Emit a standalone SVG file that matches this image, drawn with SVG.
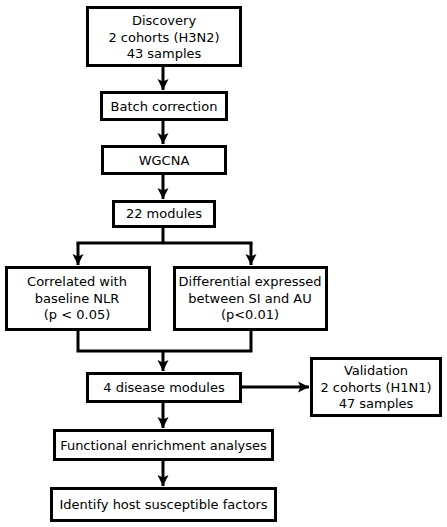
<svg xmlns="http://www.w3.org/2000/svg" width="447" height="527" viewBox="0 0 447 527">
<style>
.box{fill:#fff;stroke:#000;stroke-width:3}
.t{font-family:"DejaVu Sans","Liberation Sans",sans-serif;font-size:13px;fill:#000;text-anchor:middle}
.c{fill:none;stroke:#000;stroke-width:3}
</style>
<defs>
<marker id="ah" markerUnits="userSpaceOnUse" markerWidth="12" markerHeight="12" viewBox="0 0 12 12" refX="11" refY="6" orient="auto">
<path d="M0,0.5 L11,6 L0,11.5 L2.5,6 Z" fill="#000"/>
</marker>
</defs>
<rect width="447" height="527" fill="#fff"/>
<g id="connectors">
<path class="c" d="M163,67 V90" marker-end="url(#ah)"/>
<path class="c" d="M163,121 V144" marker-end="url(#ah)"/>
<path class="c" d="M163,175 V199" marker-end="url(#ah)"/>
<path class="c" d="M163,228 V243 M76.5,243 H252.5"/>
<path class="c" d="M78,243 V265" marker-end="url(#ah)"/>
<path class="c" d="M251,243 V265" marker-end="url(#ah)"/>
<path class="c" d="M78,331 V351 H251 V331"/>
<path class="c" d="M163,351 V371" marker-end="url(#ah)"/>
<path class="c" d="M242,387 H309" marker-end="url(#ah)"/>
<path class="c" d="M163,403 V428" marker-end="url(#ah)"/>
<path class="c" d="M163,461 V486" marker-end="url(#ah)"/>
</g>
<g id="discovery">
<rect class="box" x="87.5" y="7.5" width="153" height="58"/>
<text class="t" x="164" y="25">Discovery</text>
<text class="t" x="164" y="42">2 cohorts (H3N2)</text>
<text class="t" x="164" y="58">43 samples</text>
</g>
<g id="batch">
<rect class="box" x="101.5" y="92.5" width="125" height="27"/>
<text class="t" x="164" y="111">Batch correction</text>
</g>
<g id="wgcna">
<rect class="box" x="102.5" y="146.5" width="123" height="27"/>
<text class="t" x="164" y="165">WGCNA</text>
</g>
<g id="modules22">
<rect class="box" x="113.5" y="201.5" width="101" height="25"/>
<text class="t" x="164" y="218">22 modules</text>
</g>
<g id="correlated">
<rect class="box" x="6.5" y="267.5" width="143" height="62"/>
<text class="t" x="77" y="286">Correlated with</text>
<text class="t" x="77" y="303">baseline NLR</text>
<text class="t" x="77" y="319">(p &lt; 0.05)</text>
</g>
<g id="differential">
<rect class="box" x="174.5" y="267.5" width="152" height="62"/>
<text class="t" x="250" y="286">Differential expressed</text>
<text class="t" x="250" y="303">between SI and AU</text>
<text class="t" x="250" y="319">(p&lt;0.01)</text>
</g>
<g id="disease">
<rect class="box" x="87.5" y="373.5" width="153" height="28"/>
<text class="t" x="164" y="392">4 disease modules</text>
</g>
<g id="validation">
<rect class="box" x="311.5" y="358.5" width="129" height="57"/>
<text class="t" x="376" y="375">Validation</text>
<text class="t" x="376" y="392">2 cohorts (H1N1)</text>
<text class="t" x="376" y="408">47 samples</text>
</g>
<g id="functional">
<rect class="box" x="54.5" y="430.5" width="218" height="29"/>
<text class="t" x="163.5" y="450">Functional enrichment analyses</text>
</g>
<g id="identify">
<rect class="box" x="51.5" y="488.5" width="224" height="32"/>
<text class="t" x="163.5" y="509">Identify host susceptible factors</text>
</g>
</svg>
